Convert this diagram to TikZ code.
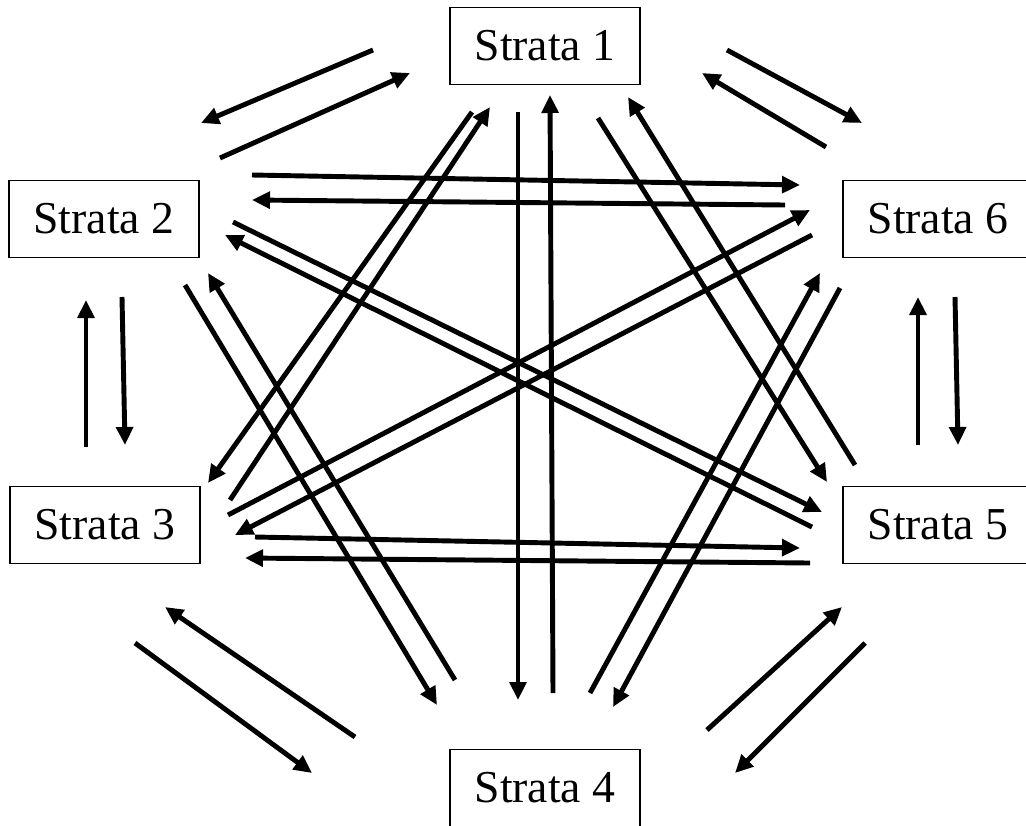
\documentclass[tikz,border=0pt]{standalone}
\usepackage{fontspec}
\setmainfont{Liberation Serif}
\usetikzlibrary{arrows.meta}

\tikzset{
  strata/.style={draw, line width=1pt, minimum width=3.8cm, minimum height=1.54cm,
    inner sep=0pt, font=\fontsize{26}{30}\selectfont},
  link/.style={line width=2.8pt, -{Triangle[length=0.36cm,width=0.33cm]}}
}

\begin{document}
\begin{tikzpicture}[x=0.02cm, y=-0.02cm]
            \useasboundingbox (0,0) rectangle (1026,825);
            % Kaesten:
            \node[strata] (s1) at (545,46) {Strata 1};
            \node[strata] (s2) at (104,219) {Strata 2};
            \node[strata] (s3) at (105,525) {Strata 3};
            \node[strata] (s4) at (545,788) {Strata 4};
            \node[strata] (s5) at (938,525) {Strata 5};
            \node[strata] (s6) at (938,219) {Strata 6};
            % Nachbarn aussen:
            \draw[link] ([shift={(-172,4)}]s1.center) -- ([shift={(97,-96)}]s2.center);
            \draw[link] ([shift={(116,-61)}]s2.center) -- ([shift={(-135,27)}]s1.center);
            \draw[link] ([shift={(182,4)}]s1.center) -- ([shift={(-76,-96)}]s6.center);
            \draw[link] ([shift={(-112,-72)}]s6.center) -- ([shift={(157,27)}]s1.center);
            \draw[link] ([shift={(-19,-78)}]s3.center) -- ([shift={(-18,81)}]s2.center);
            \draw[link] ([shift={(18,78)}]s2.center) -- ([shift={(20,-80)}]s3.center);
            \draw[link] ([shift={(-20,-80)}]s5.center) -- ([shift={(-20,78)}]s6.center);
            \draw[link] ([shift={(17,78)}]s6.center) -- ([shift={(20,-80)}]s5.center);
            \draw[link] ([shift={(-190,-51)}]s4.center) -- ([shift={(60,82)}]s3.center);
            \draw[link] ([shift={(30,118)}]s3.center) -- ([shift={(-233,-15)}]s4.center);
            \draw[link] ([shift={(162,-58)}]s4.center) -- ([shift={(-96,82)}]s5.center);
            \draw[link] ([shift={(-73,118)}]s5.center) -- ([shift={(190,-15)}]s4.center);
            % waagrecht und senkrecht:
            \draw[link] ([shift={(148,-44)}]s2.center) -- ([shift={(-138,-34)}]s6.center);
            \draw[link] ([shift={(-153,-14)}]s6.center) -- ([shift={(148,-19)}]s2.center);
            \draw[link] ([shift={(150,12)}]s3.center) -- ([shift={(-138,23)}]s5.center);
            \draw[link] ([shift={(-128,38)}]s5.center) -- ([shift={(140,33)}]s3.center);
            \draw[link] ([shift={(-27,66)}]s1.center) -- ([shift={(-27,-88)}]s4.center);
            \draw[link] ([shift={(8,-95)}]s4.center) -- ([shift={(5,49)}]s1.center);
            % Diagonalen:
            \draw[link] ([shift={(-73,66)}]s1.center) -- ([shift={(103,-42)}]s3.center);
            \draw[link] ([shift={(125,-25)}]s3.center) -- ([shift={(-55,61)}]s1.center);
            \draw[link] ([shift={(53,72)}]s1.center) -- ([shift={(-111,-43)}]s5.center);
            \draw[link] ([shift={(-83,-60)}]s5.center) -- ([shift={(83,51)}]s1.center);
            \draw[link] ([shift={(129,3)}]s2.center) -- ([shift={(-116,-13)}]s5.center);
            \draw[link] ([shift={(-126,2)}]s5.center) -- ([shift={(121,16)}]s2.center);
            \draw[link] ([shift={(123,-10)}]s3.center) -- ([shift={(-128,-9)}]s6.center);
            \draw[link] ([shift={(-126,16)}]s6.center) -- ([shift={(130,10)}]s3.center);
            \draw[link] ([shift={(81,66)}]s2.center) -- ([shift={(-108,-83)}]s4.center);
            \draw[link] ([shift={(-90,-108)}]s4.center) -- ([shift={(104,54)}]s2.center);
            \draw[link] ([shift={(45,-95)}]s4.center) -- ([shift={(-118,54)}]s6.center);
            \draw[link] ([shift={(-98,69)}]s6.center) -- ([shift={(68,-81)}]s4.center);
\end{tikzpicture}
\end{document}
